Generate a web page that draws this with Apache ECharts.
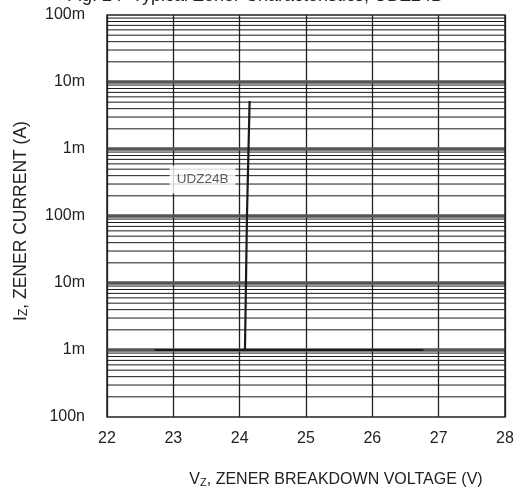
<!DOCTYPE html>
<html><head><meta charset="utf-8">
<script src="https://cdn.jsdelivr.net/npm/echarts@6/dist/echarts.min.js"></script>
<style>html,body{margin:0;padding:0;background:#fff}#c{width:529px;height:493px}</style>
</head><body><div id="c"></div>
<script>
// Tick labels as printed in the reference
const yTickValues = [1e-7, 1e-6, 1e-5, 1e-4, 1e-3, 1e-2, 1e-1];
const yTickLabels = ['100n', '1m', '10m', '100m', '1m', '10m', '100m'];
const xMin = 22, xMax = 28;

// UDZ24B breakdown curve (V, A)
const curveV = [24.08, 24.11, 24.15];
const curveI = [1e-6, 1e-4, 5.2e-3];
// test-current line (V, A)
const testV = [22.72, 26.77];
const testI = [1e-6, 1e-6];
// curve label anchor (V, A)
const labelName = 'UDZ24B';
const labelPos = [23.44, 3.5e-4];

// log grid lines (decades and 2..9 within each decade)
const majorLines = yTickValues.slice(1, -1);
const minorMult = [2, 3, 4, 5, 6, 7, 8, 9];
const decades = [1e-7, 1e-6, 1e-5, 1e-4, 1e-3, 1e-2];

const FONT = 'Liberation Sans, Arial, sans-serif';

const gridSeries = [];
decades.forEach(d => minorMult.forEach(k => {
  const v = k * d;
  gridSeries.push({type: 'line', z: 1, silent: true, symbol: 'none', animation: false,
    lineStyle: {color: '#1a1a1a', width: 1}, data: [[xMin, v], [xMax, v]]});
}));
majorLines.forEach(v => {
  gridSeries.push({type: 'line', z: 2, silent: true, symbol: 'none', animation: false,
    lineStyle: {color: '#555', width: 3.5}, data: [[xMin, v], [xMax, v]]});
});

const chart = echarts.init(document.getElementById('c'), null, {renderer: 'canvas'});
chart.setOption({
  animation: false,
  backgroundColor: '#fff',
  title: {
    text: 'Fig. 24  Typical Zener Characteristics, UDZ24B',
    left: 62, top: -18,
    textStyle: {fontFamily: FONT, fontSize: 18, fontWeight: 'normal', color: '#222'}
  },
  grid: {left: 107, right: 24, top: 15, bottom: 72, show: true, borderColor: '#222', borderWidth: 1.5, backgroundColor: 'transparent', z: 4},
  xAxis: {
    type: 'value', min: xMin, max: xMax, interval: 1,
    axisLine: {show: false}, axisTick: {show: false},
    splitLine: {show: true, lineStyle: {color: '#222', width: 1.3}},
    axisLabel: {fontFamily: FONT, fontSize: 16, color: '#222', margin: 14},
    name: 'V{sub|Z}, ZENER BREAKDOWN VOLTAGE (V)',
    nameLocation: 'middle', nameGap: 54,
    nameTextStyle: {fontFamily: FONT, fontSize: 16, color: '#222', padding: [0, 0, 0, 60],
      rich: {sub: {fontFamily: FONT, fontSize: 11, color: '#222', verticalAlign: 'bottom', padding: [6, 0, 0, 0]}}}
  },
  yAxis: {
    type: 'log', logBase: 10, min: 1e-7, max: 1e-1,
    axisLine: {show: false}, axisTick: {show: false},
    splitLine: {show: false},
    axisLabel: {fontFamily: FONT, fontSize: 16, color: '#222', margin: 22,
      formatter: v => { const i = yTickValues.findIndex(t => Math.abs(Math.log10(t) - Math.log10(v)) < 1e-6); return i >= 0 ? yTickLabels[i] : ''; }},
    name: 'I{sub|Z}, ZENER CURRENT (A)',
    nameLocation: 'middle', nameGap: 77,
    nameTextStyle: {fontFamily: FONT, fontSize: 17.5, color: '#222', padding: [0, 10, 0, 0],
      rich: {sub: {fontFamily: FONT, fontSize: 12, color: '#222', verticalAlign: 'bottom', padding: [6, 0, 0, 0]}}}
  },
  series: gridSeries.concat([
    {
      type: 'line', z: 3, symbol: 'none', silent: true,
      lineStyle: {color: '#1a1a1a', width: 2},
      data: testV.map((v, i) => [v, testI[i]])
    },
    {
      type: 'line', z: 3, symbol: 'none', silent: true,
      lineStyle: {color: '#1a1a1a', width: 2.2},
      data: curveV.map((v, i) => [v, curveI[i]])
    },
    {
      type: 'scatter', z: 5, symbolSize: 0, silent: true,
      data: [labelPos],
      label: {show: true, position: 'inside', formatter: labelName,
        fontFamily: FONT, fontSize: 13.5, color: '#333', backgroundColor: '#fff',
        padding: [7, 7, 7, 7]}
    }
  ])
});
</script></body></html>
